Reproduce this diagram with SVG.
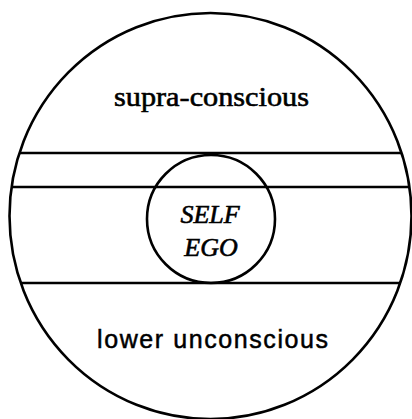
<svg xmlns="http://www.w3.org/2000/svg" width="412" height="419" viewBox="0 0 412 419">
<style>
.ln{stroke:#000;stroke-width:2.6;fill:none}
.lbl{font-family:"Liberation Serif",serif;fill:#000;stroke:#000;stroke-width:0.6}
</style>
<rect width="412" height="419" fill="#fff"/>
<g id="psyche">
<ellipse class="ln" cx="210.5" cy="216" rx="201" ry="203"/>
</g>
<g id="connectors">
<line class="ln" x1="19" y1="153" x2="402" y2="153"/>
<line class="ln" x1="11" y1="187" x2="410" y2="187"/>
<line class="ln" x1="20" y1="283" x2="401" y2="283"/>
</g>
<g id="self-ego">
<circle class="ln" cx="211" cy="219" r="64"/>
<text class="lbl" x="210" y="223" font-size="26" font-style="italic" text-anchor="middle">SELF</text>
<text class="lbl" x="211" y="256" font-size="26" font-style="italic" text-anchor="middle">EGO</text>
</g>
<g id="supra">
<text class="lbl" x="114" y="106" font-size="28" textLength="195" lengthAdjust="spacingAndGlyphs">supra-conscious</text>
</g>
<g id="lower">
<text x="97" y="348" font-family="Liberation Sans,sans-serif" font-size="25" textLength="231" lengthAdjust="spacing" stroke="#000" stroke-width="0.5">lower unconscious</text>
</g>
</svg>
